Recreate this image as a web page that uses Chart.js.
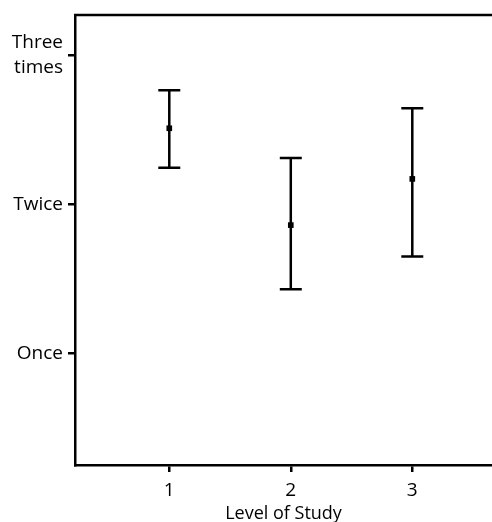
<!DOCTYPE html>
<html><head><meta charset="utf-8">
<script src="https://cdn.jsdelivr.net/npm/chart.js@4"></script>
<style>html,body{margin:0;padding:0;background:#fff}#wrap{width:492px;height:522px;position:relative}</style>
</head><body><div id="wrap"><canvas id="c"></canvas></div>
<script>
const levels = [1, 2, 3];
const means = [2.51, 1.86, 2.17];
const lower = [2.245, 1.43, 1.65];
const upper = [2.765, 2.31, 2.645];
const yTickValues = [1, 2, 3];
const yTickLabels = ['Once', 'Twice', ['Three', 'times']];
const xTickValues = [1, 2, 3];
const xTitle = 'Level of Study';

Chart.defaults.font.family = "'Open Sans', sans-serif";
Chart.defaults.color = '#000';

const errorBars = {
  id: 'errorBars',
  afterDatasetsDraw(chart) {
    const {ctx, scales: {x, y}} = chart;
    ctx.save();
    ctx.strokeStyle = '#000';
    ctx.lineWidth = 2.5;
    levels.forEach((lv, i) => {
      const px = x.getPixelForValue(lv);
      const pt = y.getPixelForValue(upper[i]);
      const pb = y.getPixelForValue(lower[i]);
      ctx.beginPath();
      ctx.moveTo(px, pt); ctx.lineTo(px, pb);
      ctx.moveTo(px - 11, pt); ctx.lineTo(px + 11, pt);
      ctx.moveTo(px - 11, pb); ctx.lineTo(px + 11, pb);
      ctx.stroke();
    });
    ctx.restore();
  }
};
const topBorder = {
  id: 'topBorder',
  afterDraw(chart) {
    const {ctx, chartArea: a} = chart;
    ctx.save();
    ctx.strokeStyle = '#000';
    ctx.lineWidth = 2.5;
    ctx.beginPath();
    ctx.moveTo(a.left - 1, a.top);
    ctx.lineTo(a.right + 2, a.top);
    ctx.stroke();
    ctx.restore();
  }
};

new Chart(document.getElementById('c'), {
  type: 'scatter',
  data: {
    datasets: [{
      data: levels.map((lv, i) => ({x: lv, y: means[i]})),
      pointStyle: 'rect',
      pointRadius: 4,
      backgroundColor: '#000',
      borderColor: '#000',
      borderWidth: 0
    }]
  },
  options: {
    responsive: true,
    maintainAspectRatio: false,
    animation: false,
    layout: {autoPadding: false, padding: {top: 15, right: 0, left: 0, bottom: 0}},
    plugins: {legend: {display: false}, tooltip: {enabled: false}},
    scales: {
      x: {
        type: 'linear',
        min: 0.224, max: 3.656,
        afterFit(s) { s.height = 57; s.paddingLeft = 0; s.paddingRight = 0; },
        afterBuildTicks(s) { s.ticks = xTickValues.map(v => ({value: v})); },
        grid: {drawOnChartArea: false, drawTicks: true, tickLength: 7, color: '#000', lineWidth: 2.5},
        border: {display: true, color: '#000', width: 2.5},
        ticks: {font: {size: 19}, padding: 7, color: '#000', callback: v => String(v)},
        title: {display: true, text: xTitle, font: {size: 18}, padding: {top: 0, bottom: -3}, color: '#000'}
      },
      y: {
        type: 'linear',
        min: 0.25, max: 3.27,
        afterFit(s) { s.width = 75; s.paddingTop = 0; s.paddingBottom = 0; },
        afterBuildTicks(s) { s.ticks = yTickValues.map(v => ({value: v})); },
        grid: {drawOnChartArea: false, drawTicks: true, tickLength: 7, color: '#000', lineWidth: 2.5},
        border: {display: true, color: '#000', width: 2.5},
        ticks: {font: {size: 19, lineHeight: 1.28}, padding: 5, color: '#000',
          callback: v => yTickLabels[yTickValues.indexOf(v)]}
      }
    }
  },
  plugins: [errorBars, topBorder]
});
</script>
</body></html>
